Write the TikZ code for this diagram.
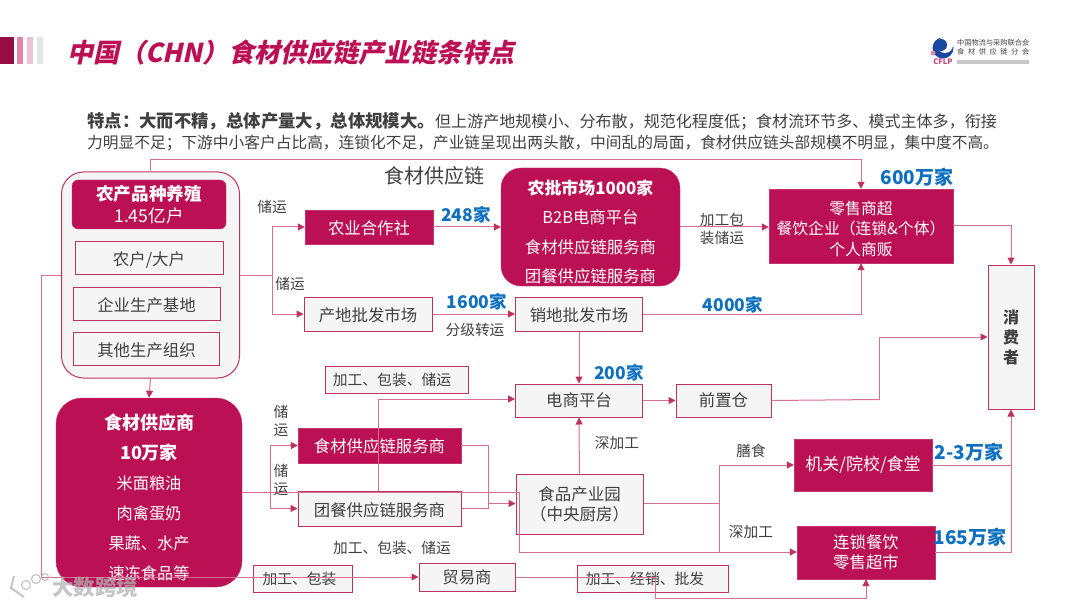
\documentclass[tikz,border=0pt]{standalone}
\usepackage{fontspec}
\setmainfont{Noto Sans CJK SC}
\usepackage{xcolor}
\usetikzlibrary{arrows.meta, positioning}
\newfontfamily\titlefont[FakeSlant=0.22]{Noto Sans CJK SC}
\definecolor{cflpred}{RGB}{188,16,84}
\definecolor{cflplink}{RGB}{217,110,142}
\definecolor{cflpedge}{RGB}{190,50,95}
\definecolor{cflpfill}{RGB}{245,245,245}
\definecolor{cflpblue}{RGB}{16,112,192}
\definecolor{cflptext}{RGB}{64,64,64}
\definecolor{cflplogo}{RGB}{24,72,160}
\tikzset{
  redbox/.style={
    rectangle, fill=cflpred, draw=cflpred!85, text=white, align=center,
    inner sep=0pt, font=\fontsize{16.4}{20.5}\selectfont
  },
  whitebox/.style={
    rectangle, fill=cflpfill, draw=cflpedge, line width=1pt, text=cflptext,
    align=center, inner sep=0pt, font=\fontsize{16.4}{20.5}\selectfont
  },
  smallbox/.style={whitebox, font=\fontsize{14.8}{18}\selectfont},
  flowlabel/.style={text=cflptext, inner sep=0pt, align=center, font=\fontsize{14.7}{18.5}\selectfont},
  countlabel/.style={text=cflpblue, inner sep=0pt, font=\fontsize{17.5}{20}\selectfont\bfseries},
  bigcount/.style={countlabel, font=\fontsize{19}{20}\selectfont\bfseries},
  link/.style={-{Triangle[length=7pt,width=7pt,color=cflpedge]}, line width=1pt, draw=cflplink},
  plainlink/.style={line width=1pt, draw=cflplink}
}

\begin{document}
\begin{tikzpicture}[x=1pt, y=-1pt]
\useasboundingbox (0,0) rectangle (1080,607);

% -------- HEADER --------
\fill[cflpred!80!black] (0,37) rectangle (14,64);
\fill[cflpred!50] (17,37) rectangle (23,64);
\fill[cflpred!25] (27,37) rectangle (33,64);
\fill[black!10] (37,37) rectangle (43,64);
\node[anchor=west, inner sep=0pt, text=cflpred, font=\fontsize{26}{28}\selectfont\titlefont\bfseries] (title) at (67,53) {中国（CHN）食材供应链产业链条特点};

\node[anchor=north west, inner sep=0pt, text=cflptext, align=left, font=\fontsize{15.72}{21}\selectfont] (intro) at (87,112.5)
  {{\bfseries\fontsize{17.4}{21}\selectfont 特点：大而不精，总体产量大，总体规模大。}{\fontsize{16.05}{21}\selectfont 但上游产地规模小、分布散，规范化程度低；食材流环节多、模式主体多，衔接}\\力明显不足；下游中小客户占比高，连锁化不足，产业链呈现出两头散，中间乱的局面，食材供应链头部规模不明显，集中度不高。};

% logo
\fill[cflplogo] (943,48) circle (10.5);
\fill[white] (945,45) circle (8);
\fill[cflplogo] (941,45) circle (6);
\fill[cflpred!50] (933,53) circle (2.5);
\node[inner sep=0pt, text=cflpred!80, font=\fontsize{7.5}{8}\selectfont\bfseries] (logoname) at (943,62) {CFLP};
\node[anchor=west, inner sep=0pt, text=cflptext, font=\fontsize{7.2}{9}\selectfont] (logotop) at (957,43) {中国物流与采购联合会};
\node[anchor=west, inner sep=0pt, text=cflptext, font=\fontsize{7.2}{9}\selectfont] (logobottom) at (957,52) {食\hspace{3.6pt}材\hspace{3.6pt}供\hspace{3.6pt}应\hspace{3.6pt}链\hspace{3.6pt}分\hspace{3.6pt}会};
\fill[black!22] (957,60) rectangle (1029,64);

% -------- UPSTREAM --------
\node[rectangle, rounded corners=22pt, fill=cflpfill, draw=cflpedge, line width=1pt, minimum width=178pt, minimum height=206pt] (farm) at (150.5,275) {};
\node[redbox, rounded corners=6pt, minimum width=154pt, minimum height=49pt, font=\fontsize{17.6}{22}\selectfont] (farmhead) at (149,204.5) {\textbf{农产品种养殖}\\1.45亿户};
\node[whitebox, minimum width=148pt, minimum height=33pt] (household) at (149,257.5) {\rule{0pt}{18pt}农户/大户};
\node[whitebox, minimum width=147pt, minimum height=33pt] (base) at (146.5,303.5) {\rule{0pt}{18pt}企业生产基地};
\node[whitebox, minimum width=146pt, minimum height=33pt] (other) at (146.5,348.5) {\rule{0pt}{18pt}其他生产组织};

\node[redbox, rounded corners=26pt, minimum width=186pt, minimum height=189pt, font=\fontsize{16.2}{30}\selectfont] (supplier) at (149,492.5)
  {\rule{0pt}{25pt}{\fontsize{18}{30}\selectfont\textbf{食材供应商}}\\{\fontsize{18}{30}\selectfont\textbf{10万家}}\\米面粮油\\肉禽蛋奶\\果蔬、水产\\速冻食品等};

% -------- MIDDLE TRACK --------
\node[redbox, minimum width=128pt, minimum height=34pt] (coop) at (369,227) {\rule{0pt}{16pt}农业合作社};
\node[whitebox, minimum width=128pt, minimum height=34pt] (origin) at (368,314) {\rule{0pt}{16pt}产地批发市场};
\node[redbox, rounded corners=20pt, minimum width=179pt, minimum height=118pt, font=\fontsize{16.4}{29.5}\selectfont] (market) at (590.5,227)
  {\rule{0pt}{24pt}{\fontsize{16.9}{29.5}\selectfont\textbf{农批市场1000家}}\\B2B电商平台\\食材供应链服务商\\团餐供应链服务商};
\node[whitebox, right=82.5pt of origin, minimum width=127pt, minimum height=34pt] (sales) {\rule{0pt}{16pt}销地批发市场};
\node[whitebox, below=52pt of sales, minimum width=127pt, minimum height=33pt] (ecom) {电商平台};
\node[whitebox, right=32.5pt of ecom, minimum width=95pt, minimum height=33pt] (front) {前置仓};
\node[whitebox, minimum width=127pt, minimum height=60pt, font=\fontsize{16.5}{20}\selectfont] (park) at (579.5,504) {食品产业园\\（中央厨房）};
\node[redbox, minimum width=163pt, minimum height=35pt] (svcfood) at (379.5,445.5) {\rule{0pt}{16pt}食材供应链服务商};
\node[whitebox, minimum width=163pt, minimum height=35pt] (svcgroup) at (379.5,508.5) {\rule{0pt}{17pt}团餐供应链服务商};
\node[smallbox, minimum width=143pt, minimum height=27pt] (procstore) at (396.5,379.5) {加工、包装、储运\hspace*{9pt}};
\node[smallbox, minimum width=99pt, minimum height=27pt] (procpack) at (302.5,578.5) {加工、包装\hspace*{6pt}};
\node[whitebox, minimum width=96pt, minimum height=28pt] (trader) at (467,577) {贸易商};
\node[smallbox, minimum width=151pt, minimum height=27pt] (procsale) at (652.5,578.5) {加工、经销、批发\hspace*{15pt}};

% -------- DOWNSTREAM --------
\node[redbox, minimum width=184pt, minimum height=74pt, font=\fontsize{15.8}{20.5}\selectfont] (retail) at (861,226) {\rule{0pt}{19pt}零售商超\\餐饮企业（连锁\&个体）\\个人商贩};
\node[redbox, minimum width=138pt, minimum height=52pt, font=\fontsize{17}{20}\selectfont] (gov) at (863,465) {机关/院校/食堂};
\node[redbox, minimum width=138pt, minimum height=53pt] (chain) at (866,552.5) {连锁餐饮\\零售超市};
\node[whitebox, minimum width=46pt, minimum height=144pt, font=\fontsize{16}{20}\selectfont\bfseries] (consumer) at (1011,337) {消\\费\\者};

% -------- JUNCTIONS --------
\coordinate (farmsplit) at (272,275);
\coordinate (suppliersplit) at (270,492);
\coordinate (toplink) at (150,160);
\coordinate (farmleft) at (41,275);
\coordinate (farmlow) at (41,577);
\coordinate (servicetop) at (378,399);
\coordinate (servicejoin) at (488,503.5);
\coordinate (parksplit) at (719,503.5);
\coordinate (parkin) at (519,492);
\coordinate (parkout) at (519,552);
\coordinate (traderturn) at (655,577);
\coordinate (traderlow) at (655,598);
\coordinate (frontturn) at (879,399.5);
\coordinate (sidelink) at (1011,465);

% -------- CONNECTORS --------
\foreach \a/\b in {coop/market,origin/sales,ecom/front}
  \draw[link] (\a) -- (\b);
\draw[link] (market.east) -- (retail.west |- market.east);
\draw[link] (sales) -- (ecom);
\draw[link] (park) -- (ecom);
\draw[link] (farm.south) -- (supplier.north);

\draw[link] (farm.north -| toplink) -- (toplink) -| (retail.north);
\draw[plainlink] (farm.east |- farmsplit) -- (farmsplit);
\draw[link] (farmsplit) |- (coop.west);
\draw[link] (farmsplit) |- (origin.west);
\draw[link] (sales.east) -| (retail.south);
\draw[link] (retail.east) -| (consumer.north);

\draw[plainlink] (farm.west |- farmleft) -- (farmleft) -- (farmlow);
\draw[link] (farmlow) -- (trader.west |- farmlow);
\draw[plainlink] (trader.east |- traderturn) -- (traderturn) -- (traderlow);
\draw[link] (traderlow) -| (chain.south);

\draw[plainlink] (front.east) -- (frontturn);
\draw[link] (frontturn) |- (consumer.west);

\draw[plainlink] (supplier.east |- suppliersplit) -- (parkin) -- (parkout);
\draw[link] (parkout) -- (chain.west |- parkout);
\draw[link] (suppliersplit) |- (svcfood.west);
\draw[link] (suppliersplit) |- (svcgroup.west);

\draw[plainlink] (servicetop |- svcgroup.north) -- (servicetop);
\draw[link] (servicetop) -- (ecom.west |- servicetop);
\draw[plainlink] (svcfood.east) -| (servicejoin);
\draw[plainlink] (svcgroup.east) -| (servicejoin);
\draw[link] (servicejoin) -- (park.west |- servicejoin);

\draw[plainlink] (park.east |- parksplit) -- (parksplit);
\draw[link] (parksplit) |- (gov.west);
\draw[plainlink] (parksplit) -- (parksplit |- parkout);
\draw[plainlink] (gov.east) -- (sidelink);
\draw[link] (chain.east) -| (consumer.south);

% -------- LABELS --------
\node[inner sep=0pt, text=cflptext, font=\fontsize{20}{22}\selectfont] (chainname) at (434,176) {食材供应链};
\node[flowlabel] (storeone) at (272,207) {储运};
\node[flowlabel] (storetwo) at (290,284) {储运};
\node[flowlabel] (grading) at (475,330) {分级转运};
\node[flowlabel] (packstore) at (722,229) {加工包\\装储运};
\node[flowlabel] (deepone) at (617,443) {深加工};
\node[flowlabel] (meal) at (751,451) {膳食};
\node[flowlabel] (deeptwo) at (751,532) {深加工};
\node[flowlabel] (storethree) at (281,421) {储\\运};
\node[flowlabel] (storefour) at (281,480) {储\\运};
\node[flowlabel] (packtwo) at (392,548) {加工、包装、储运};

\node[countlabel] (countcoop) at (466,215) {248家};
\node[countlabel] (countorigin) at (477,302) {1600家};
\node[countlabel] (countsales) at (733,305) {4000家};
\node[countlabel] (countecom) at (619,373) {200家};
\node[bigcount] (countretail) at (917,177) {600万家};
\node[bigcount] (countgov) at (969,452) {2-3万家};
\node[bigcount] (countchain) at (970,537) {165万家};

% -------- WATERMARK --------
\node[anchor=west, inner sep=0pt, text=black!30, opacity=0.75, font=\fontsize{21.5}{23}\selectfont\bfseries] (mark) at (52,587) {大数跨境};
\draw[black!30, line width=2pt, opacity=0.75] (14,576) -- (11,588) -- (24,597);
\draw[black!30, line width=1.2pt, opacity=0.75] (26,585) circle (4.5) (36,579) circle (4.5) (45,577) circle (3.5);

\end{tikzpicture}
\end{document}
